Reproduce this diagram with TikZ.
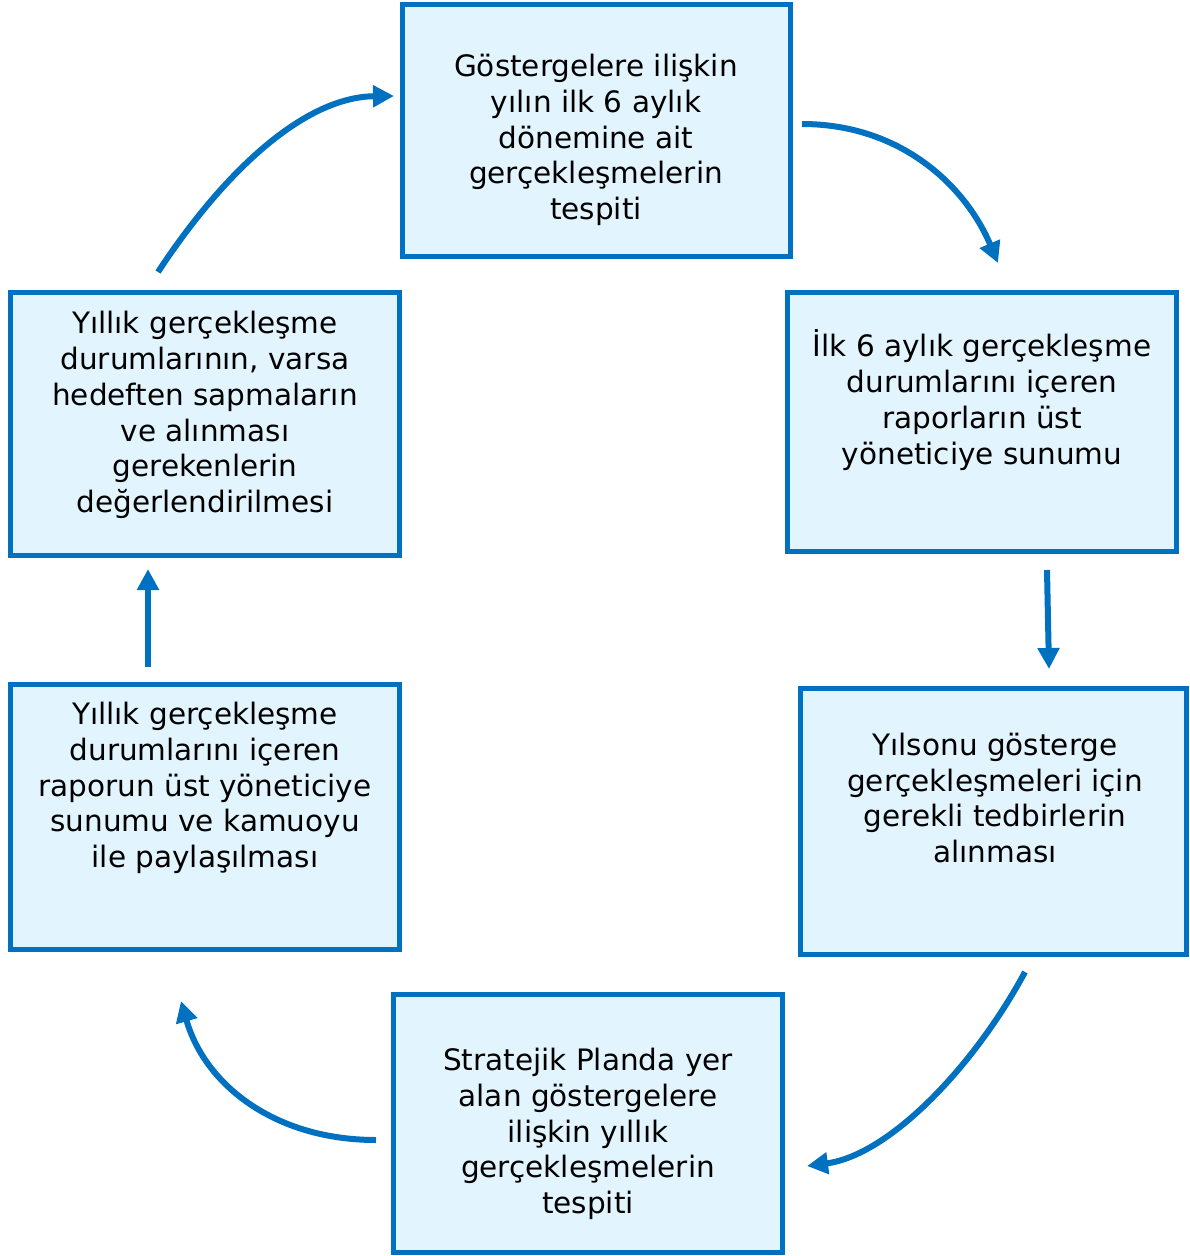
\documentclass[tikz,border=0pt]{standalone}
\usepackage{fontspec}
\setmainfont{DejaVu Sans}
\usetikzlibrary{arrows.meta}
\definecolor{bord}{HTML}{0070C0}
\definecolor{boxfill}{HTML}{E2F4FD}
\tikzset{
  pbox/.style={draw=bord, fill=boxfill, line width=5.5pt},
  ptext/.style={align=center, font=\fontsize{29.5}{35.8}\selectfont, text=black, inner sep=0pt},
  parrow/.style={draw=bord, line width=6pt, -{Triangle[length=21pt,width=21pt]}}
}
\begin{document}
\begin{tikzpicture}[x=1pt,y=-1pt]
\useasboundingbox (0,0) rectangle (1190,1256);
% boxes
\path[pbox] (402.5,4.5) rectangle (790.5,256.5) node[midway] (b1) {};
\path[pbox] (787.5,292.5) rectangle (1176.5,551.5) node[midway] (b2) {};
\path[pbox] (800.5,688.5) rectangle (1186.5,954.5) node[midway] (b3) {};
\path[pbox] (393.5,994.5) rectangle (782.5,1252.5) node[midway] (b4) {};
\path[pbox] (10.5,684.5) rectangle (399.5,949.5) node[midway] (b5) {};
\path[pbox] (10.5,292.5) rectangle (399.5,555.5) node[midway] (b6) {};
% texts
\node[ptext] (t1) at (596,140) {Göstergelere ilişkin\\yılın ilk 6 aylık\\dönemine ait\\gerçekleşmelerin\\tespiti};
\node[ptext] (t2) at (982,400) {İlk 6 aylık gerçekleşme\\durumlarını içeren\\raporların üst\\yöneticiye sunumu};
\node[ptext] (t3) at (995,798) {Yılsonu gösterge\\gerçekleşmeleri için\\gerekli tedbirlerin\\alınması};
\node[ptext] (t4) at (588,1134) {Stratejik Planda yer\\alan göstergelere\\ilişkin yıllık\\gerçekleşmelerin\\tespiti};
\node[ptext] (t5) at (205,788) {Yıllık gerçekleşme\\durumlarını içeren\\raporun üst yöneticiye\\sunumu ve kamuoyu\\ile paylaşılması};
\node[ptext] (t6) at (205,415) {Yıllık gerçekleşme\\durumlarının, varsa\\hedeften sapmaların\\ve alınması\\gerekenlerin\\değerlendirilmesi};
% arrow endpoints
\coordinate (a1s) at (802,124); \coordinate (a1e) at (998,263);
\coordinate (a2s) at (1047,570); \coordinate (a2e) at (1049,669);
\coordinate (a3s) at (1025,972); \coordinate (a3e) at (807,1166);
\coordinate (a4s) at (376,1140); \coordinate (a4e) at (181,1001);
\coordinate (a5s) at (148,667); \coordinate (a5e) at (148,569);
\coordinate (a6s) at (158,272); \coordinate (a6e) at (394,96);
\draw[parrow] (a1s) .. controls (900,124) and (965,185) .. (a1e);
\draw[parrow] (a2s) -- (a2e);
\draw[parrow] (a3s) .. controls (975,1065) and (890,1155) .. (a3e);
\draw[parrow] (a4s) .. controls (275,1140) and (205,1085) .. (a4e);
\draw[parrow] (a5s) -- (a5e);
\draw[parrow] (a6s) .. controls (225,170) and (305,97) .. (a6e);
\end{tikzpicture}
\end{document}
